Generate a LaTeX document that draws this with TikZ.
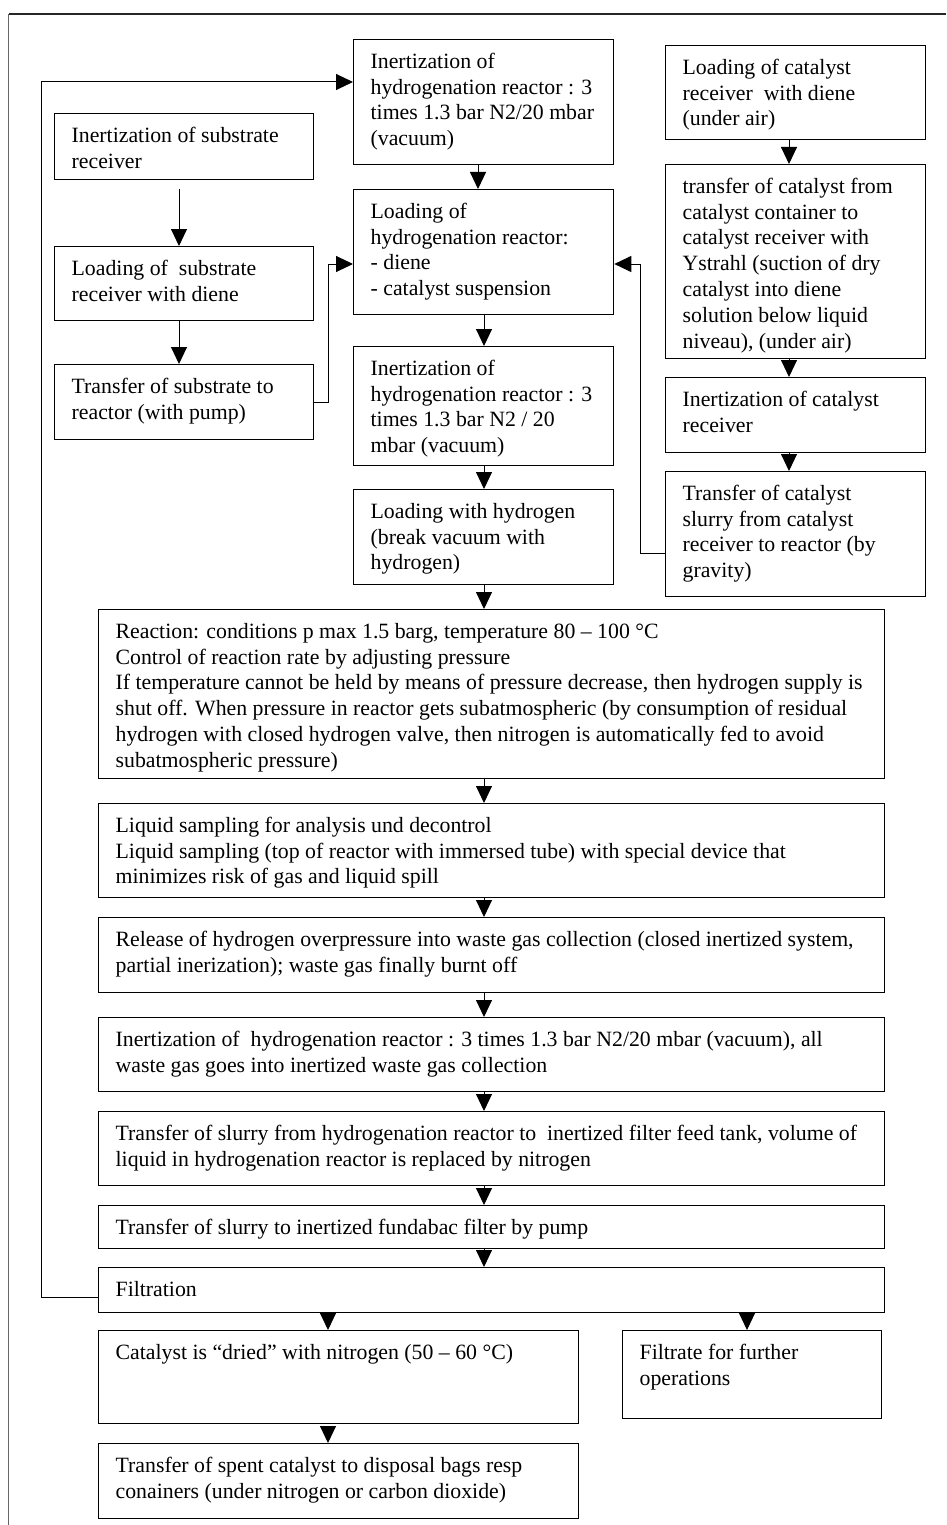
\documentclass[tikz,border=0pt]{standalone}
\usepackage{fontspec}
\setmainfont{Liberation Serif}
\usetikzlibrary{arrows.meta}
\tikzset{
  boxst/.style={draw=black, line width=1.3pt, inner sep=0pt, anchor=north west,
    font=\fontsize{21.8pt}{25.9pt}\selectfont},
  arr/.style={draw=black, line width=1pt, -{Triangle[length=17pt,width=16pt]}},
  frameline/.style={line width=1.4pt}
}
\newcommand\bx[6]{\node[boxst] (#1) at (#2,#3) {\parbox[c][#5pt][t]{#4pt}{\raggedright\leftskip=17pt\rule{0pt}{28.5pt}#6}};}
\begin{document}
\begin{tikzpicture}[x=1pt,y=-1pt]
\useasboundingbox (0,0) rectangle (946,1525);
\fill[white] (0,0) rectangle (946,1525);
% page frame
\draw[frameline, draw=black!85] (946,14) -- (8.5,14);
\draw[frameline, draw=black!60] (8.5,14) -- (8.5,1525);
% column / row coordinates
\coordinate (xs) at (179,0);
\coordinate (xm) at (484,0);
\coordinate (xt) at (478,0);
\coordinate (xc) at (789,0);
\coordinate (xl) at (328,0);
\coordinate (xf) at (747,0);
\coordinate (ya) at (0,264);
\coordinate (yl) at (0,82);
\coordinate (yf) at (0,1297);
\coordinate (yc) at (0,553);
% boxes
\bx{A1}{353}{39}{260}{125}{Inertization of\\hydrogenation reactor : 3\\times 1.3 bar N2/20 mbar\\(vacuum)}
\bx{S1}{54}{113}{259}{66}{Inertization of substrate\\receiver}
\bx{S2}{54}{246}{259}{74}{Loading of \ substrate\\receiver with diene}
\bx{S3}{54}{364}{259}{75}{Transfer of substrate to\\reactor (with pump)}
\bx{A2}{353}{189}{260}{125}{Loading of\\hydrogenation reactor:\\- diene\\- catalyst suspension}
\bx{A3}{353}{346}{260}{119}{Inertization of\\hydrogenation reactor : 3\\times 1.3 bar N2 / 20\\mbar (vacuum)}
\bx{A4}{353}{489}{260}{95}{Loading with hydrogen\\(break vacuum with\\hydrogen)}
\bx{C1}{665}{45}{260}{94}{Loading of catalyst\\receiver \ with diene\\(under air)}
\bx{C2}{665}{164}{260}{194}{transfer of catalyst from\\catalyst container to\\catalyst receiver with\\Ystrahl (suction of dry\\catalyst into diene\\solution below liquid\\niveau), (under air)}
\bx{C3}{665}{377}{260}{75}{Inertization of catalyst\\receiver}
\bx{C4}{665}{471}{260}{125}{Transfer of catalyst\\slurry from catalyst\\receiver to reactor (by\\gravity)}
\bx{R}{98}{609}{786}{169}{Reaction: conditions p max 1.5 barg, temperature 80 – 100 °C\\Control of reaction rate by adjusting pressure\\If temperature cannot be held by means of pressure decrease, then hydrogen supply is\\shut off. When pressure in reactor gets subatmospheric (by consumption of residual\\hydrogen with closed hydrogen valve, then nitrogen is automatically fed to avoid\\subatmospheric pressure)}
\bx{L}{98}{803}{786}{94}{Liquid sampling for analysis und decontrol\\Liquid sampling (top of reactor with immersed tube) with special device that\\minimizes risk of gas and liquid spill}
\bx{Rel}{98}{917}{786}{75}{Release of hydrogen overpressure into waste gas collection (closed inertized system,\\partial inerization); waste gas finally burnt off}
\bx{I2}{98}{1017}{786}{74}{Inertization of \ hydrogenation reactor : 3 times 1.3 bar N2/20 mbar (vacuum), all\\waste gas goes into inertized waste gas collection}
\bx{T1}{98}{1111}{786}{74}{Transfer of slurry from hydrogenation reactor to \ inertized filter feed tank, volume of\\liquid in hydrogenation reactor is replaced by nitrogen}
\bx{T2}{98}{1205}{786}{43}{Transfer of slurry to inertized fundabac filter by pump}
\bx{F}{98}{1267}{786}{45}{Filtration}
\bx{D}{98}{1330}{480}{93}{Catalyst is “dried” with nitrogen (50 – 60 °C)}
\bx{Ft}{622}{1330}{259}{88}{Filtrate for further\\operations}
\bx{Sp}{98}{1443}{480}{75}{Transfer of spent catalyst to disposal bags resp\\conainers (under nitrogen or carbon dioxide)}
% connectors
\draw[arr, shorten <=9pt] (S1.south -| xs) -- (S2.north -| xs);
\draw[arr] (S2.south -| xs) -- (S3.north -| xs);
\draw[arr] (S3.east) -- ++(14.5,0) |- (A2.west |- ya);
\draw[arr] (A1.south -| xt) -- (A2.north -| xt);
\draw[arr] (A2.south -| xm) -- (A3.north -| xm);
\draw[arr] (A3.south -| xm) -- (A4.north -| xm);
\draw[arr] (A4.south -| xm) -- (R.north -| xm);
\draw[arr] (C1.south -| xc) -- (C2.north -| xc);
\draw[arr] (C2.south -| xc) -- (C3.north -| xc);
\draw[arr] (C3.south -| xc) -- (C4.north -| xc);
\draw[arr] (C4.west |- yc) -- ++(-25,0) |- (A2.east |- ya);
\draw[arr] (R.south -| xm) -- (L.north -| xm);
\draw[arr] (L.south -| xm) -- (Rel.north -| xm);
\draw[arr] (Rel.south -| xm) -- (I2.north -| xm);
\draw[arr] (I2.south -| xm) -- (T1.north -| xm);
\draw[arr] (T1.south -| xm) -- (T2.north -| xm);
\draw[arr] (T2.south -| xm) -- (F.north -| xm);
\draw[arr] (F.west |- yf) -- ++(-57,0) |- (A1.west |- yl);
\draw[arr] (F.south -| xl) -- (D.north -| xl);
\draw[arr] (F.south -| xf) -- (Ft.north -| xf);
\draw[arr, shorten <=7pt] (D.south -| xl) -- (Sp.north -| xl);
\end{tikzpicture}
\end{document}
